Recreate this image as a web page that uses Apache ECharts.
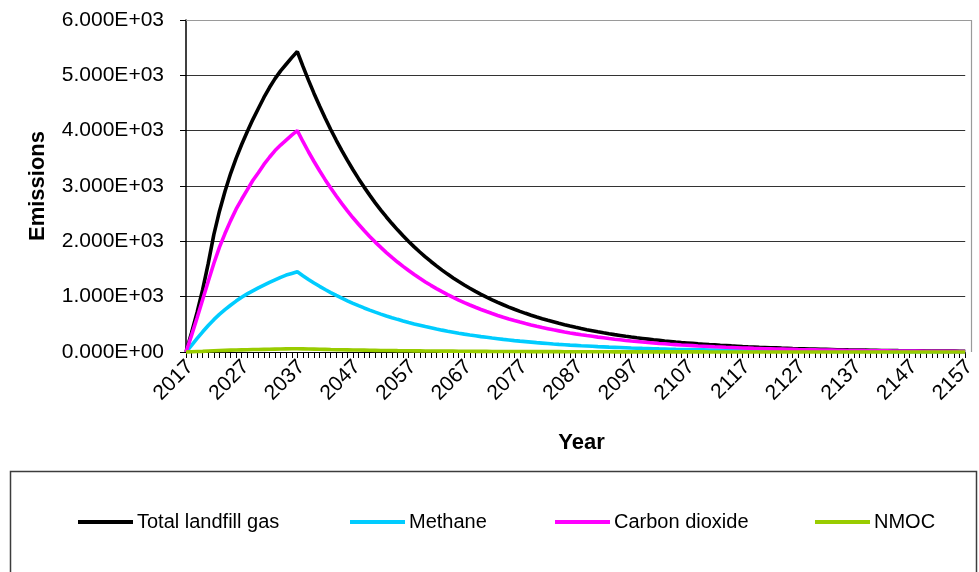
<!DOCTYPE html>
<html>
<head>
<meta charset="utf-8">
<script src="https://cdn.jsdelivr.net/npm/echarts@6/dist/echarts.min.js"></script>
<style>
html,body{margin:0;padding:0;background:#fff;}
#chart{width:979px;height:572px;}
</style>
</head>
<body>
<div id="chart"></div>
<script>
// Categories: years 2017..2157
const firstYear = 2017;
const lastYear = 2157;
const years = [];
for (let y = firstYear; y <= lastYear; y++) years.push(String(y));

const seriesNames = ['Total landfill gas', 'Methane', 'Carbon dioxide', 'NMOC'];
const yTicks = [0, 1000, 2000, 3000, 4000, 5000, 6000];

// Values (2017-2037 rising part)
const totalRise = [0,350,720,1130,1600,2120,2540,2900,3220,3500,3750,3980,4200,4400,4600,4780,4940,5080,5200,5320,5430];
const co2Rise   = [0,300,620,950,1280,1600,1890,2140,2370,2580,2760,2930,3100,3240,3390,3520,3640,3740,3830,3920,4000];
const ch4Rise   = [0,120,245,365,480,585,680,765,845,920,990,1050,1105,1160,1210,1260,1305,1350,1390,1420,1450];
const nmocRise  = [0,4,8,12,17,22,26,30,33,36,39,42,44,46,48,50,52,54,56,58,60];

// Values (2038-2157 decay part)
const totalDecay = [
5165,4913,4673,4445,4229,4022,3826,3640,3462,3293,
3133,2980,2835,2696,2565,2440,2321,2208,2100,1998,
1900,1807,1719,1636,1556,1480,1408,1339,1274,1212,
1153,1096,1043,992,944,898,854,812,773,735,
699,665,633,602,572,545,518,493,469,446,
424,403,384,365,347,330,314,299,284,270,
257,245,233,221,211,200,191,181,172,164,
156,148,141,134,128,121,116,110,105,99,
94,90,85,81,77,74,70,67,63,60,
57,54,52,49,47,45,42,40,38,37,
35,33,31,30,28,27,26,24,23,22,
21,20,19,18,17,16,16,15,14,13];
const co2Decay = [
3805,3619,3443,3275,3115,2963,2819,2681,2550,2426,
2308,2195,2088,1986,1890,1797,1710,1626,1547,1472,
1400,1332,1266,1205,1146,1090,1037,986,938,892,
849,808,768,731,695,661,629,598,569,541,
515,490,466,443,422,401,382,363,345,328,
312,297,283,269,256,243,231,220,209,199,
190,180,172,163,155,148,140,134,127,121,
115,109,104,99,94,90,85,81,77,73,
70,66,63,60,57,54,52,49,47,44,
42,40,38,36,35,33,31,30,28,27,
26,24,23,22,21,20,19,18,17,16,
16,15,14,13,13,12,12,11,10,10];
const ch4Decay = [
1379,1312,1248,1187,1129,1074,1022,972,925,879,
837,796,757,720,685,651,620,590,561,533,
507,483,459,437,415,395,376,358,340,323,
308,293,278,265,252,240,228,217,206,196,
187,178,169,161,153,145,138,132,125,119,
113,108,103,97,93,88,84,80,76,72,
69,65,62,59,56,54,51,48,46,44,
42,40,38,36,34,32,31,29,28,27,
25,24,23,22,21,20,19,18,17,16,
15,15,14,13,13,12,11,11,10,10,
9,9,8,8,8,7,7,7,6,6,
6,5,5,5,5,4,4,4,4,4];
const nmocDecay = [
57,54,52,49,47,44,42,40,38,36,
35,33,31,30,28,27,26,24,23,22,
21,20,19,18,17,16,16,15,14,13,
13,12,12,11,10,10,9,9,9,8,
8,7,7,7,6,6,6,5,5,5,
5,4,4,4,4,4,3,3,3,3,
3,3,3,2,2,2,2,2,2,2,
2,2,2,1,1,1,1,1,1,1,
1,1,1,1,1,1,1,1,1,1,
1,1,1,1,1,1,1,1,1,1,
1,0,0,0,0,0,0,0,0,0,
0,0,0,0,0,0,0,0,0,0];

const totalGas = totalRise.concat(totalDecay);
const methane = ch4Rise.concat(ch4Decay);
const carbonDioxide = co2Rise.concat(co2Decay);
const nmoc = nmocRise.concat(nmocDecay);

const colors = ['#000000', '#00CCFF', '#FF00FF', '#99CC00'];
const FONT = 'Liberation Sans, Arial, sans-serif';

const chart = echarts.init(document.getElementById('chart'), null, {renderer: 'canvas'});

function fmt(v) {
  if (v === 0) return '0.000E+00';
  return (v / 1000).toFixed(3) + 'E+03';
}

const legendX = [78, 350, 555, 815];
const legends = seriesNames.map((n, i) => ({
  data: [n],
  left: legendX[i],
  top: 512,
  padding: 0,
  icon: 'rect',
  itemWidth: 55,
  itemHeight: 4,
  itemGap: 4,
  selectedMode: false,
  textStyle: {fontFamily: FONT, fontSize: 20, color: '#000', padding: [0, 0, 0, -1]}
}));

const option = {
  animation: false,
  backgroundColor: '#ffffff',
  color: colors,
  grid: {left: 186, right: 9, top: 20, bottom: 220, containLabel: false},
  legend: legends,
  xAxis: {
    type: 'category',
    data: years,
    boundaryGap: false,
    name: 'Year',
    nameLocation: 'middle',
    nameGap: 80,
    nameTextStyle: {fontFamily: FONT, fontWeight: 'bold', fontSize: 22, color: '#000', padding: [0, 0, 0, 12]},
    axisLine: {show: true, lineStyle: {color: '#000', width: 1}},
    axisTick: {show: true, interval: 0, length: 6, lineStyle: {color: '#000', width: 1}},
    axisLabel: {interval: 9, rotate: 45, fontFamily: FONT, fontSize: 21, color: '#000', margin: 16, padding: [0, -6, 0, 0]},
    splitLine: {show: false}
  },
  yAxis: {
    type: 'value',
    min: yTicks[0],
    max: yTicks[yTicks.length - 1],
    interval: 1000,
    name: 'Emissions',
    nameLocation: 'middle',
    nameGap: 137,
    nameTextStyle: {fontFamily: FONT, fontWeight: 'bold', fontSize: 22, color: '#000'},
    axisLine: {show: true, lineStyle: {color: '#000', width: 1.5}},
    axisTick: {show: true, length: 6, lineStyle: {color: '#000', width: 1}},
    axisLabel: {formatter: fmt, fontFamily: FONT, fontSize: 21, color: '#000', margin: 22},
    splitLine: {show: true, lineStyle: {color: '#333', width: 1.2}}
  },
  series: [
    {name: seriesNames[0], type: 'line', data: totalGas},
    {name: seriesNames[1], type: 'line', data: methane},
    {name: seriesNames[2], type: 'line', data: carbonDioxide},
    {name: seriesNames[3], type: 'line', data: nmoc}
  ].map((s, i) => Object.assign(s, {
    symbol: 'none',
    smooth: false,
    clip: false,
    lineStyle: {width: 3.6, color: colors[i]},
    itemStyle: {color: colors[i]},
    z: 3 + i
  })),
  graphic: [
    {type: 'rect', shape: {x: 10.5, y: 471.5, width: 966, height: 120},
     style: {fill: 'none', stroke: '#3c3c3c', lineWidth: 1.5}, silent: true},
    {type: 'polyline', shape: {points: [[186, 20.5], [971.5, 20.5], [971.5, 352]]},
     style: {fill: 'none', stroke: '#9a9a9a', lineWidth: 1.2}, z: 1, silent: true}
  ]
};
chart.setOption(option);
</script>
</body>
</html>
